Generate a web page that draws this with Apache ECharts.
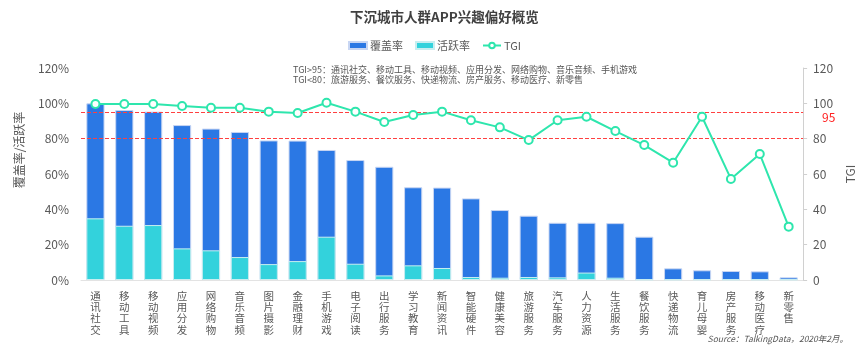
<!DOCTYPE html>
<html><head><meta charset="utf-8">
<script src="https://cdn.jsdelivr.net/npm/echarts@6/dist/echarts.min.js"></script>
<style>html,body{margin:0;padding:0;background:#fff}#c{width:864px;height:364px}</style>
</head><body><div id="c"></div>
<script>
const categories = ['通讯社交','移动工具','移动视频','应用分发','网络购物','音乐音频','图片摄影','金融理财','手机游戏','电子阅读','出行服务','学习教育','新闻资讯','智能硬件','健康美容','旅游服务','汽车服务','人力资源','生活服务','餐饮服务','快递物流','育儿母婴','房产服务','移动医疗','新零售'];
const coverage = [100, 96.2, 95.3, 87.7, 85.7, 83.8, 79.0, 78.9, 73.6, 67.9, 64.1, 52.5, 52.3, 46.2, 39.6, 36.4, 32.4, 32.4, 32.2, 24.5, 6.6, 5.5, 5.1, 4.9, 1.5];
const active = [34.9, 30.7, 31.1, 17.9, 16.8, 13.0, 9.0, 10.7, 24.5, 9.2, 2.6, 8.3, 6.8, 1.7, 1.3, 1.7, 1.5, 4.2, 1.3, 0.3, 0.3, 0.3, 0.3, 0.3, 0.3];
const tgi = [99.6, 99.6, 99.6, 98.5, 97.5, 97.5, 95.3, 94.5, 100.3, 95.3, 89.4, 93.4, 95.3, 90.4, 86.4, 79.2, 90.4, 92.4, 84.3, 76.4, 66.4, 92.4, 57.2, 71.3, 30.2];
const thresholds = [95, 80];
const noteLines = ['TGI>95：通讯社交、移动工具、移动视频、应用分发、网络购物、音乐音频、手机游戏', 'TGI<80：旅游服务、餐饮服务、快递物流、房产服务、移动医疗、新零售'];

const chart = echarts.init(document.getElementById('c'));
const font = '"Noto Sans CJK SC", "Noto Sans", sans-serif';
const baseGraphics = [
  { id: 'note', type: 'text', left: 293, top: 64, style: { text: noteLines.join('\n'), fontSize: 9, lineHeight: 10.5, fill: '#555', fontFamily: font } },
  { id: 'yname', type: 'text', x: 19, y: 150, rotation: Math.PI / 2, style: { text: '覆盖率/活跃率', fontSize: 12, fill: '#595959', align: 'center', verticalAlign: 'middle', fontFamily: font } },
  { id: 'src', type: 'text', right: 16, bottom: 21, style: { text: 'Source：TalkingData，2020年2月。', fontSize: 8.5, fontStyle: 'italic', fill: '#555', fontFamily: font } }
];
chart.setOption({
  animation: false,
  textStyle: { fontFamily: font },
  title: { text: '下沉城市人群APP兴趣偏好概览', left: 345, top: 5,
    textStyle: { fontSize: 13.5, fontWeight: 'bold', color: '#404040', fontFamily: font } },
  legend: { left: 343, top: 35, itemWidth: 18, itemHeight: 7, itemGap: 12,
    textStyle: { fontSize: 11, color: '#595959', padding: [0, 0, 0, -2] },
    data: [{name: '覆盖率', icon: 'rect'}, {name: '活跃率', icon: 'rect'}, {name: 'TGI'}] },
  grid: { left: 81, right: 55, top: 68, bottom: 84 },
  graphic: baseGraphics,
  xAxis: { type: 'category', data: categories,
    axisLine: { lineStyle: { color: '#e3e3e3' } }, axisTick: { show: false },
    axisLabel: { interval: 0, color: '#595959', fontSize: 10.5, lineHeight: 11.4, margin: 10,
      formatter: v => v.split('').join('\n') } },
  yAxis: [
    { type: 'value', min: 0, max: 120, interval: 20,
      axisLabel: { formatter: '{value}%', color: '#595959', fontSize: 12, margin: 12 },
      axisLine: { show: false }, axisTick: { show: false }, splitLine: { show: false } },
    { type: 'value', min: 0, max: 120, interval: 20, position: 'right',
      name: 'TGI', nameLocation: 'middle', nameRotate: 90, nameGap: 38,
      nameTextStyle: { color: '#595959', fontSize: 12 },
      axisLabel: { color: '#595959', fontSize: 12, margin: 10 },
      axisLine: { show: true, lineStyle: { color: '#d0d0d0' } },
      axisTick: { show: true, length: 4, lineStyle: { color: '#d0d0d0' } },
      splitLine: { show: false } }
  ],
  series: [
    { name: '覆盖率', type: 'bar', data: coverage, barWidth: '63%', barGap: '-100%',
      itemStyle: { color: '#2b78e4', borderColor: '#c8d6f3', borderWidth: 1 } },
    { name: '活跃率', type: 'bar', data: active, barWidth: '63%', barGap: '-100%',
      itemStyle: { color: '#33d2dc', borderColor: '#c8eef0', borderWidth: 1 } },
    { name: 'TGI', type: 'line', yAxisIndex: 1, data: tgi, symbol: 'emptyCircle', symbolSize: 8,
      lineStyle: { color: '#2ee6ad', width: 2 }, itemStyle: { color: '#2ee6ad', borderWidth: 1.5 },
      z: 5,
      markLine: { silent: true, symbol: 'none',
        lineStyle: { color: '#ff4040', type: 'dashed', width: 1 },
        label: { show: false },
        data: thresholds.map(t => ({ yAxis: t })) } }
  ]
});
const y95 = chart.convertToPixel({ yAxisIndex: 1 }, thresholds[0]);
chart.setOption({ graphic: baseGraphics.concat([
  { id: 'lbl95', type: 'text', x: 822, y: y95 + 5, style: { text: String(thresholds[0]), fontSize: 12, fill: '#ff2020', verticalAlign: 'middle', fontFamily: font } }
]) });
</script></body></html>
